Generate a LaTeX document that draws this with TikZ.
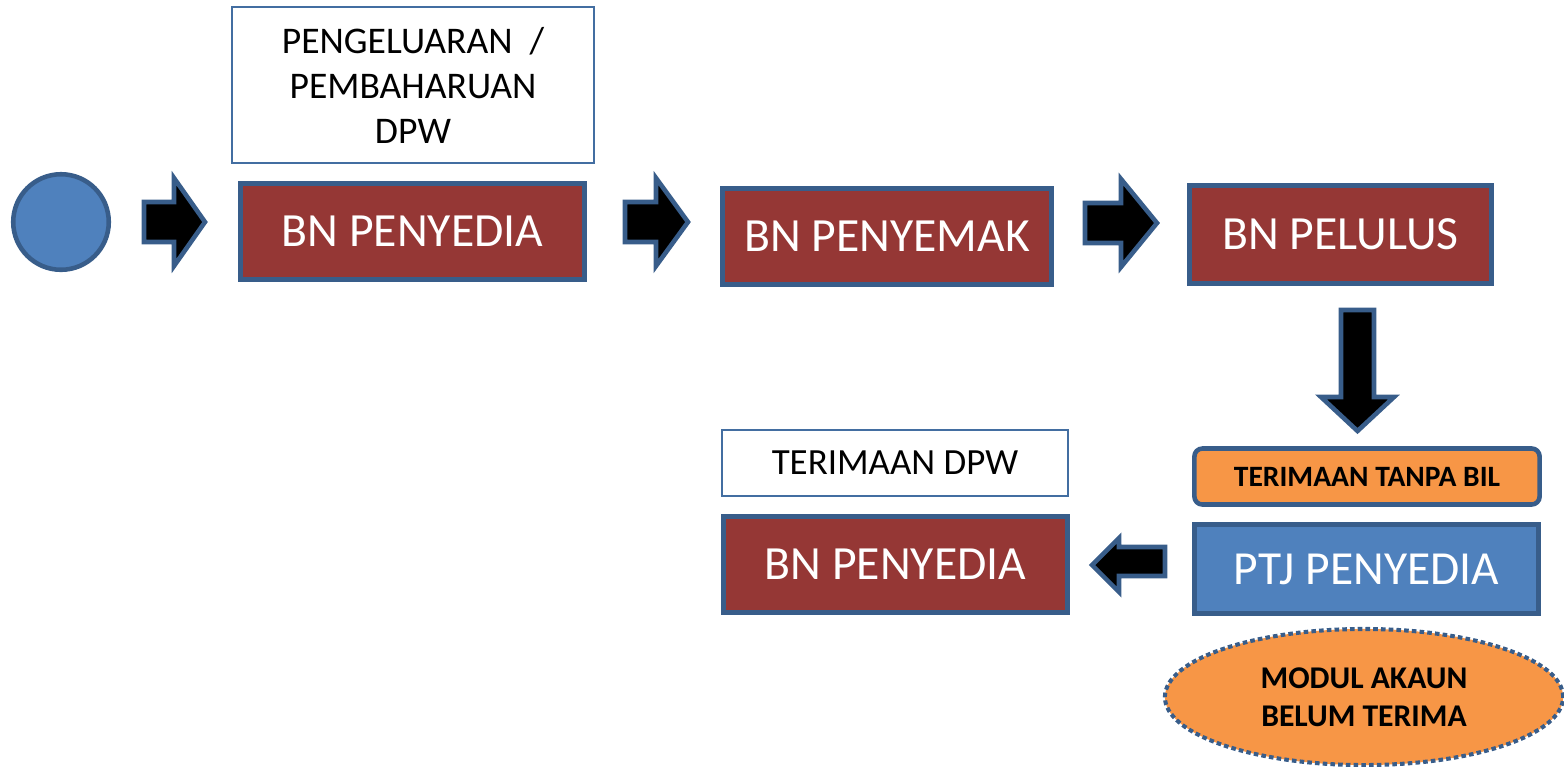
\documentclass[tikz,border=0pt]{standalone}
\usepackage{fontspec}
\setmainfont{Carlito}
\usepackage{tikz}
\usetikzlibrary{shapes,backgrounds,calc}

\definecolor{boxblue}{HTML}{4F81BD}
\definecolor{edgeblue}{HTML}{385D8A}
\definecolor{boxred}{HTML}{953735}
\definecolor{boxorange}{HTML}{F79646}

\tikzset{
  stage/.style={draw=edgeblue, line width=1.3pt, fill=boxred, text=white,
    font=\fontsize{13.55}{16.2}\selectfont, inner sep=0pt},
  caption/.style={draw=boxblue!85!black, line width=0.5pt, fill=white,
    align=center, font=\fontsize{10.7}{12.8}\selectfont, inner sep=0pt},
  blockarr/.style={draw=edgeblue, line width=1.3pt, fill=black, line join=miter}
}

\begin{document}
\begin{tikzpicture}[x=0.01cm, y=-0.01cm]
      \useasboundingbox (0,0) rectangle (1564,766);
      % start point
      \node [circle, draw=edgeblue, line width=1.3pt, fill=boxblue,
        minimum size=0.955cm, inner sep=0pt] (start) at (61,222) {};
      % top row
      \node [caption, minimum width=3.62cm, minimum height=1.56cm] (issue) at (413,85)
        {PENGELUARAN\ \ /\\PEMBAHARUAN\\DPW};
      \node [stage, minimum width=3.44cm, minimum height=0.96cm] (prov) at (412.5,231.5) {BN PENYEDIA};
      \node [stage, minimum width=3.29cm, minimum height=0.96cm] (check) at (887,236.5) {BN PENYEMAK};
      \node [stage, minimum width=3.02cm, minimum height=0.98cm] (appr) at (1340.5,234.5) {BN PELULUS};
      % bottom row
      \node [draw=edgeblue, line width=1.3pt, fill=boxorange, rounded corners=0.08cm,
        minimum width=3.45cm, minimum height=0.56cm, inner sep=0pt,
        font=\fontsize{8.4}{10}\selectfont\bfseries] (nobill) at (1367,476.5) {TERIMAAN TANPA BIL};
      \node [stage, fill=boxblue, minimum width=3.44cm, minimum height=0.89cm,
        font=\fontsize{13.5}{16}\selectfont] (ptj) at (1366.5,569) {PTJ PENYEDIA};
      \node [ellipse, draw=edgeblue, line width=1.15pt, dash pattern=on 1.3pt off 0.9pt,
        fill=boxorange, minimum width=3.98cm, minimum height=1.36cm, inner sep=0pt,
        align=center, font=\fontsize{9}{10.8}\selectfont\bfseries] (modul) at (1364,697)
        {MODUL AKAUN\\BELUM TERIMA};
      \node [caption, minimum width=3.46cm, minimum height=0.66cm,
        font=\fontsize{10.5}{12.6}\selectfont] (recv) at (895,463) {TERIMAAN DPW};
      \node [stage, minimum width=3.44cm, minimum height=0.96cm] (prov2) at (895.5,564.5) {BN PENYEDIA};
      % block arrows, left to right
      \foreach \xa/\xb/\xc/\yc in {144/174/205/222, 625/656/688/222, 1085/1121/1157/223} {
        \draw [blockarr] (\xa,\yc-20) -- (\xb,\yc-20) -- (\xb,\yc-44) -- (\xc,\yc)
          -- (\xb,\yc+44) -- (\xb,\yc+20) -- (\xa,\yc+20) -- cycle;
      }
      % block arrow down
      \draw [blockarr] (1341,310) -- (1374,310) -- (1374,397) -- (1394,397) -- (1357.5,431)
        -- (1321,397) -- (1341,397) -- cycle;
      % block arrow back
      \draw [blockarr] (1165,547) -- (1119,547) -- (1119,538) -- (1092,565) -- (1119,592)
        -- (1119,576) -- (1165,576) -- cycle;
\end{tikzpicture}
\end{document}
